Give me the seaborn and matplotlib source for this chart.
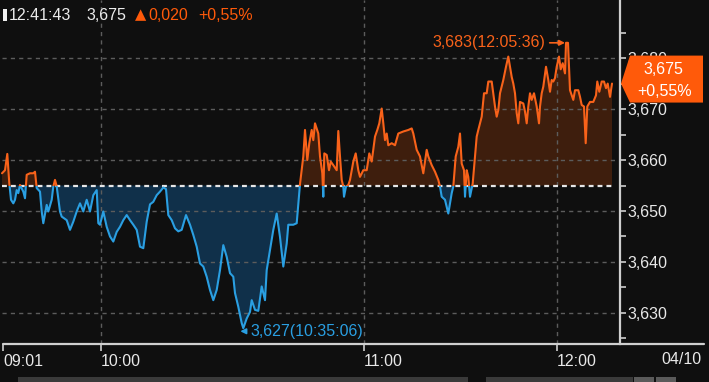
import numpy as np
import pandas as pd
import seaborn as sns
import matplotlib
matplotlib.use("Agg")
import matplotlib.pyplot as plt
import matplotlib.transforms as mtransforms
from matplotlib.patches import Polygon, Rectangle
from matplotlib.lines import Line2D

# ---------------- data ----------------
tick_idx = [2, 5, 7.3, 9.3, 11, 13.3, 15, 16.7, 18.3, 20, 23.3, 25, 26.7, 30, 33.3, 35, 36.7, 40,
            41.7, 43.3, 46.7, 48.3, 51.7, 53.3, 55, 56.7, 60, 61.7, 66.7, 70, 73.3, 76.7, 80, 83.3,
            86.7, 90, 93.3, 96.7, 98.3, 100, 103.3, 106.7, 110, 113.3, 116.7, 120, 123.3, 126.7,
            130, 133.3, 136.7, 140, 143.3, 146.7, 150, 153.3, 156.7,
            160, 163.3, 166, 168.3, 171.7, 175, 178.3, 181.7, 186, 190, 193.3, 196.7, 200, 203.3,
            206.7, 210, 213.3, 216.7, 220, 223.3, 226.7, 230, 233.3, 235, 238.3, 241.7, 243.3,
            246.7, 250, 251.7, 255, 258.3, 261.7, 265, 266.7, 270, 273.3, 276.7, 280, 283.3,
            286.7, 288.3, 293.3, 296.7, 300,
            303.3, 305, 307.3, 309.3, 311.7, 313.3, 315, 318.3, 320, 322.3, 323.3, 324.3, 326.7,
            329, 330.7, 333.3, 336.7, 338.3, 340, 341.7, 343.3, 344, 346, 348.3, 350, 353.3,
            355.7, 358.3, 360, 363.3, 366.7, 369.3, 371.7, 375, 377.3, 379.3, 381.7, 383.3, 385,
            386.7, 388.3, 391.7, 395, 398.3, 403.3, 408.3, 411.7, 413.3, 416.7, 420, 423.3,
            426.7, 428.3, 431.7, 435, 438.3, 440, 441.7, 445, 448.3, 451.7, 453.3, 455.7, 458.3,
            460, 461.7, 464, 465, 466.7, 468.3, 470, 472.7, 475, 476.7, 478.3, 481.7, 484, 486.7,
            488.3, 491.7, 493.3, 495, 496.7, 498.3, 500, 503.3, 506, 508.3, 510, 511.7, 513.3,
            515, 516.7, 518.3, 520, 523.3, 525, 526.7, 528.3, 530, 531.7, 534, 536.7, 539, 540,
            541.7, 543.3, 546, 548.3, 550, 551.7, 553.3, 555, 556.7, 559, 560.7, 562.7, 565, 566,
            568, 570, 573.3, 575, 578.3, 580, 581.7, 584, 585.7, 587.3, 590, 593.3, 596, 597.3,
            599.3, 601.7, 604, 606, 607.7, 610, 612]
price = [3657.4, 3658.0, 3661.2, 3655.4, 3652.2, 3651.5, 3652.2, 3654.1, 3653.5, 3655.1, 3653.8,
         3652.5, 3657.1, 3657.4, 3657.4, 3657.7, 3654.5, 3653.8, 3649.9, 3647.6, 3651.2, 3649.9,
         3652.2, 3654.8, 3656.1, 3654.8, 3649.9, 3648.9, 3648.2, 3646.3, 3647.9, 3649.9, 3651.5,
         3649.9, 3652.2, 3649.9, 3653.1, 3654.1, 3647.6, 3647.3, 3649.9, 3646.9, 3645.0, 3644.0,
         3645.9, 3646.9, 3648.2, 3649.2, 3648.2, 3647.3, 3646.3, 3643.0, 3642.7, 3647.9, 3651.3,
         3651.8, 3653.1,
         3653.8, 3654.6, 3654.3, 3649.2, 3648.2, 3646.6, 3646.0, 3646.3, 3649.2, 3647.3, 3645.3,
         3643.0, 3639.7, 3639.1, 3637.1, 3634.5, 3632.5, 3634.5, 3638.4, 3643.3, 3641.0, 3637.8,
         3637.1, 3633.9, 3631.2, 3628.0, 3627.0, 3628.9, 3630.2, 3632.5, 3630.6, 3630.4, 3635.2,
         3632.5, 3638.4, 3642.4, 3646.3, 3649.5, 3644.9, 3639.1, 3643.6, 3647.3, 3647.3, 3647.6,
         3655.3,
         3660.7, 3665.9, 3660.0, 3663.3, 3665.9, 3663.9, 3667.2, 3665.2, 3660.7, 3657.4, 3652.8,
         3661.3, 3661.0, 3658.0, 3659.7, 3659.0, 3658.0, 3665.7, 3660.7, 3656.1, 3654.8, 3652.8,
         3654.8, 3655.1, 3656.1, 3659.7, 3661.3, 3658.0, 3656.7, 3658.0, 3658.0, 3661.3, 3659.7,
         3664.6, 3665.9, 3667.2, 3670.1, 3667.2, 3663.9, 3665.2, 3662.9, 3663.3, 3662.9, 3665.2,
         3665.6, 3665.9, 3666.2, 3665.2, 3662.0, 3660.7, 3657.4, 3662.0, 3660.7, 3659.0, 3657.7,
         3656.1, 3654.8, 3652.8, 3652.2, 3649.5, 3653.5, 3654.8, 3660.7, 3662.6,
         3665.2, 3659.3, 3658.0, 3652.8, 3658.0, 3656.7, 3652.8, 3655.4, 3660.7, 3664.6, 3665.9,
         3668.5, 3673.1, 3673.1, 3675.4, 3675.4, 3673.1, 3670.5, 3668.5, 3669.8, 3673.1, 3675.7,
         3678.3, 3680.3, 3678.3, 3676.3, 3675.0, 3673.1, 3669.2, 3667.2, 3671.4, 3671.1, 3669.5,
         3667.2, 3670.5, 3673.1, 3671.8, 3673.1, 3670.5, 3667.2, 3670.5, 3673.1, 3674.4, 3678.3,
         3675.7, 3673.4, 3675.7, 3675.4, 3676.1, 3678.3, 3680.3, 3677.8, 3679.0, 3677.0, 3683.0,
         3683.0, 3673.7, 3671.8, 3673.7, 3673.7, 3672.4, 3670.8, 3670.5, 3663.3, 3670.5, 3671.4,
         3671.4, 3672.7, 3675.4, 3673.4, 3675.4, 3675.4, 3674.1, 3675.0, 3672.4, 3675.0]
prev_close = 3655
last_price = 3675

time_tick_pos = [3, 101, 364, 557]
time_tick_labels = ["09:01", "10:00", "11:00", "12:00"]
date_label = "04/10"
y_major = [3630, 3640, 3650, 3660, 3670, 3680]
y_major_labels = ["3,630", "3,640", "3,650", "3,660", "3,670", "3,680"]
y_minor = [3625, 3635, 3645, 3655, 3665, 3675, 3685]
grid_x = [101, 364, 557]

clock_label = "12:41:43"
last_label = "3,675"
change_label = "0,020"
pct_label = "+0,55%"
high_label = "3,683(12:05:36)"
low_label = "3,627(10:35:06)"

# ---------------- style ----------------
BG = "#0f0f0f"
ORANGE = "#f8621a"
ORANGE_TAG = "#ff5a0a"
BLUE = "#2a9fe2"
ORANGE_FILL = "#3e1e0d"
BLUE_FILL = "#10304a"
GRID = "#5c5c5c"
AXC = "#cfcfcf"
TXT = "#e8e8e8"

sns.set_theme(style="dark")
FONT = ["Liberation Sans", "DejaVu Sans"]
FS = 11.5
plt.rcParams["font.family"] = FONT
plt.rcParams["axes.unicode_minus"] = False

W, H, DPI = 709, 382, 100
fig = plt.figure(figsize=(W / DPI, H / DPI), dpi=DPI, facecolor=BG)
ax = fig.add_axes([2 / W, (H - 344) / H, 618 / W, 344 / H])
ax.set_facecolor(BG)

df = pd.DataFrame({"tick": tick_idx, "price": price})
x = np.array(tick_idx, dtype=float)
p = np.array(price, dtype=float)

ax.set_xlim(2, 620)
ax.set_ylim(3623.9, 3691.4)

# fills
ax.fill_between(x, p, prev_close, where=p >= prev_close, interpolate=True,
                color=ORANGE_FILL, lw=0, zorder=1)
ax.fill_between(x, p, prev_close, where=p <= prev_close, interpolate=True,
                color=BLUE_FILL, lw=0, zorder=1)

# grid
for v in y_major:
    ax.axhline(v, color=GRID, lw=1.0, ls=(0, (3, 3)), zorder=2)
for gx in grid_x:
    ax.axvline(gx, color=GRID, lw=1.0, ls=(0, (3, 3)), zorder=2)
ax.hlines(prev_close, 2, x[-1] + 3, color="#e6e6e6", lw=1.6, ls=(0, (2.2, 1.8)), zorder=3)

# price line: orange above previous close, blue below
sns.lineplot(data=df, x="tick", y="price", ax=ax, color=ORANGE, lw=1.5,
             estimator=None, sort=False, legend=False, zorder=4)
l_up = ax.lines[-1]
sns.lineplot(data=df, x="tick", y="price", ax=ax, color=BLUE, lw=1.5,
             estimator=None, sort=False, legend=False, zorder=4)
l_dn = ax.lines[-1]
l_up.set_clip_path(Rectangle((0, prev_close), 1000, 100, transform=ax.transData))
l_dn.set_clip_path(Rectangle((0, prev_close - 100), 1000, 100, transform=ax.transData))

ax.set_xlabel("")
ax.set_ylabel("")

# axes / ticks
for s in ["top", "left", "bottom"]:
    ax.spines[s].set_visible(False)
ax.spines["right"].set_visible(True)
ax.spines["right"].set_color(AXC)
ax.spines["right"].set_linewidth(1.6)

ax.yaxis.tick_right()
ax.set_yticks(y_major)
ax.set_yticklabels(y_major_labels)
ax.set_yticks(y_minor, minor=True)
ax.tick_params(axis="y", which="both", direction="out", length=4, width=1.2,
               colors=AXC, labelcolor=TXT, labelsize=FS, pad=1.5, right=True, left=False)

ax.set_xticks(time_tick_pos)
ax.set_xticklabels(time_tick_labels, ha="left")
ax.tick_params(axis="x", which="both", direction="out", length=5, width=1.2,
               colors=AXC, labelcolor=TXT, labelsize=FS, pad=2, bottom=True)
ax.grid(False)

fig.add_artist(Line2D([3 / W, 704 / W], [(H - 344) / H] * 2, color=AXC, lw=1.6))
fig.text(702 / W, 1 - 360 / H, date_label, color=TXT, fontsize=FS, ha="right", va="center")

# high / low annotations
i_hi = int(np.argmax(p))
i_lo = int(np.argmin(p))
ax.annotate(high_label, xy=(x[i_hi] - 1, p[i_hi]), xytext=(x[i_hi] - 21, p[i_hi]),
            ha="right", va="center", color=ORANGE, fontsize=FS, zorder=6,
            arrowprops=dict(arrowstyle="-|>", color=ORANGE, lw=1.2, shrinkA=1, shrinkB=0,
                            mutation_scale=8))
ax.annotate(low_label, xy=(x[i_lo] - 3, p[i_lo] - 0.6), xytext=(x[i_lo] + 7, p[i_lo] - 0.6),
            ha="left", va="center", color=BLUE, fontsize=FS, zorder=6,
            annotation_clip=False,
            arrowprops=dict(arrowstyle="-|>", color=BLUE, lw=1.2, shrinkA=1, shrinkB=0,
                            mutation_scale=8))

# header
fig.patches.append(Rectangle((3 / W, 1 - 21 / H), 4 / W, 12 / H, transform=fig.transFigure,
                             facecolor="#f0f0f0", edgecolor="none"))
hy = 1 - 15 / H
fig.text(9 / W, hy, clock_label, color="#ececec", fontsize=FS, ha="left", va="center")
fig.text(86 / W, hy, last_label, color="#ececec", fontsize=FS, ha="left", va="center")
fig.text(135 / W, hy, "\u25B2", color=ORANGE_TAG, fontsize=10.5, ha="left", va="center",
         family=["DejaVu Sans"])
fig.text(148 / W, hy, change_label, color=ORANGE_TAG, fontsize=FS, ha="left", va="center")
fig.text(198 / W, hy, pct_label, color=ORANGE_TAG, fontsize=FS, ha="left", va="center")

# last-price tag on the right axis
tagT = mtransforms.blended_transform_factory(fig.transFigure, ax.transData)
top = last_price + 28 / 5.1
bot = last_price - 19 / 5.1
tag = Polygon([(621 / W, last_price), (630 / W, top), (703 / W, top), (703 / W, bot), (630 / W, bot)],
              closed=True, transform=tagT, facecolor=ORANGE_TAG, edgecolor="none", zorder=10,
              clip_on=False)
fig.patches.append(tag)
fig.text(663 / W, 1 - 70 / H, last_label, color="white", fontsize=FS, ha="center", va="center",
         zorder=11)
fig.text(665 / W, 1 - 91 / H, pct_label, color="white", fontsize=FS, ha="center", va="center",
         zorder=11)

# bottom scroll bar decoration
for (x0, x1, c) in [(18, 468, "#3a3a3a"), (486, 633, "#3a3a3a"), (634, 654, "#5a5a5a"),
                    (656, 676, "#5a5a5a")]:
    fig.patches.append(Rectangle((x0 / W, 0), (x1 - x0) / W, 5 / H, transform=fig.transFigure,
                                 facecolor=c, edgecolor="none"))

fig.savefig("out.png", dpi=DPI, facecolor=BG)
